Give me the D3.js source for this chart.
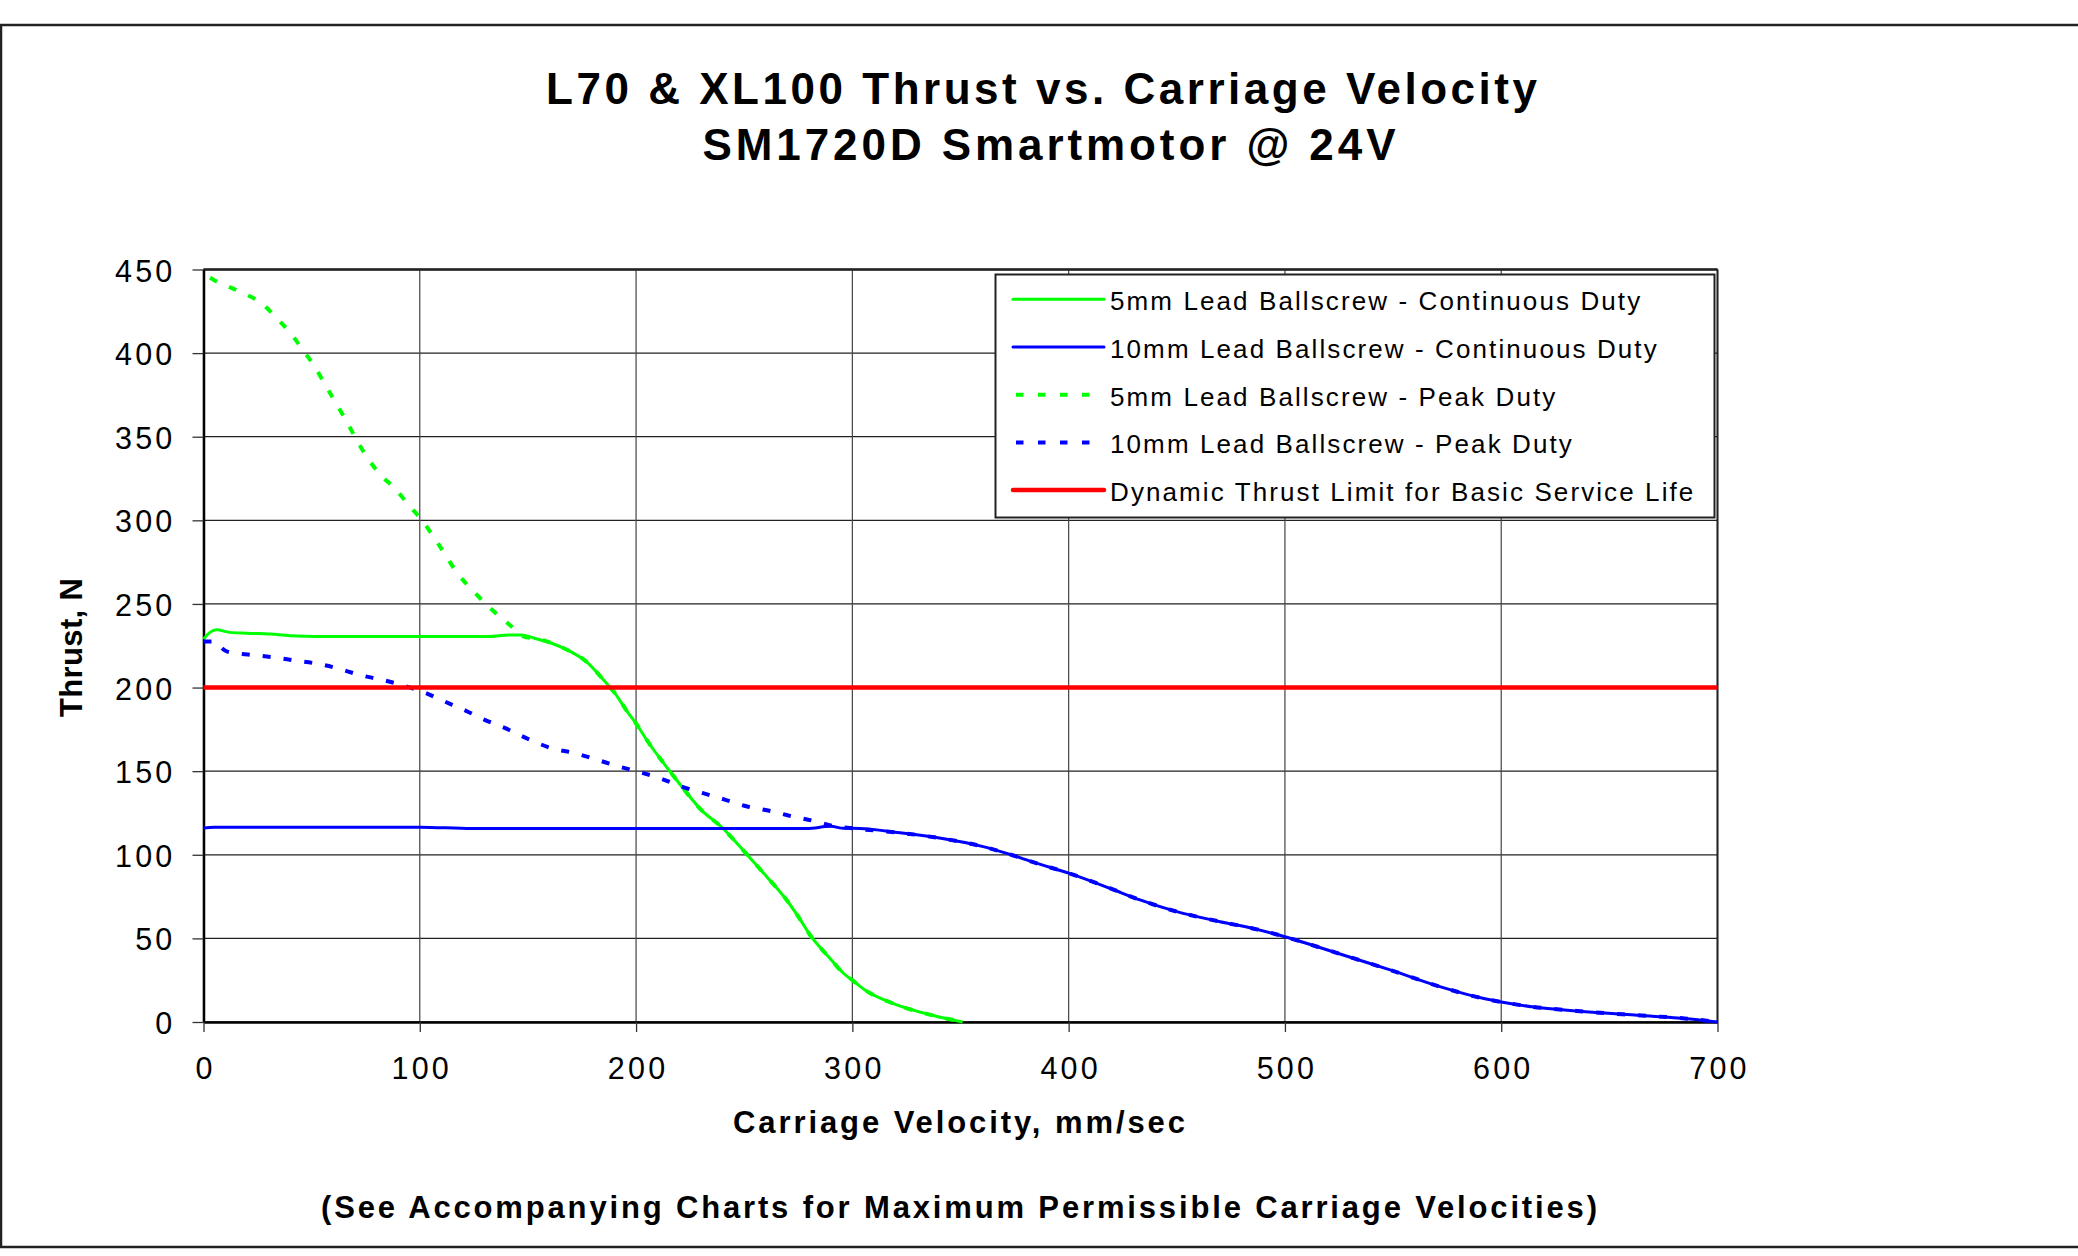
<!DOCTYPE html>
<html>
<head>
<meta charset="utf-8">
<script src="https://cdn.jsdelivr.net/npm/d3@7"></script>
<style>
  body { margin: 0; background: #fff; }
  text { font-family: "Liberation Sans", Arial, sans-serif; fill: #000; }
</style>
</head>
<body>
<script>
// chart values
var xTicks = [0, 100, 200, 300, 400, 500, 600, 700];
var yTicks = [0, 50, 100, 150, 200, 250, 300, 350, 400, 450];

// 5mm lead ballscrew - continuous duty
var cont5Vel = [0, 3, 6, 12, 20, 31, 40, 62, 100, 132, 141, 147, 153, 161, 169, 177, 185, 190, 196, 200, 205, 215, 221, 230, 240, 250, 261, 269, 275, 281, 289, 296, 300, 306, 319, 337, 351];
var cont5Thrust = [229, 233, 234.5, 233, 232.5, 232, 231, 230.5, 230.5, 230.5, 231.5, 231.5, 229.5, 226.5, 222, 215.5, 204.5, 197, 185.5, 178.5, 168.5, 151, 141, 127, 116, 102, 86, 74, 63, 51, 39, 29, 25, 19, 11, 4, 0];

// 10mm lead ballscrew - continuous duty
var cont10Vel = [0, 5, 100, 124, 279, 290, 296, 300, 323, 343, 360, 371, 385, 400, 419, 433, 450, 470, 487, 500, 515, 532, 549, 572, 592, 600, 615, 635, 663, 686, 700];
var cont10Thrust = [116, 116.5, 116.5, 115.7, 115.7, 117, 115.8, 115.8, 113, 109.4, 105, 101, 95, 89, 80, 73, 66, 60, 55.4, 51, 45, 38, 31, 21, 14, 12, 9, 6.6, 4, 2, 0];

// 5mm lead ballscrew - peak duty
var peak5Vel = [3, 5, 17, 27, 34, 41, 46, 51, 55.5, 60, 65, 70, 76, 82, 88.5, 95, 101, 107, 112, 117, 124.5, 133, 142, 149, 153, 161, 169, 177, 185, 190, 196, 200, 205, 215, 221, 230, 240, 250, 261, 269, 275, 281, 289, 296, 300, 306, 319, 337, 351];
var peak5Thrust = [445, 443.6, 436.6, 429.6, 420.7, 410.7, 401.7, 392.7, 382.8, 372.8, 361.8, 350, 337, 327, 319, 309, 300, 289, 279, 269, 258, 247, 237, 230, 229.5, 226.5, 222, 215.5, 204.5, 197, 185.5, 178.5, 168.5, 151, 141, 127, 116, 102, 86, 74, 63, 51, 39, 29, 25, 19, 11, 4, 0];

// 10mm lead ballscrew - peak duty
var peak10Vel = [0, 5, 6, 11, 22.6, 33, 43, 51.5, 62, 72, 82.6, 93, 101, 111.6, 122, 130, 139.5, 151, 161, 171.6, 182, 192, 200.6, 211, 221, 230.6, 241, 251, 262.7, 272, 283, 292, 300, 323, 343, 360, 371, 385, 400, 419, 433, 450, 470, 487, 500, 515, 532, 549, 572, 592, 600, 615, 635, 663, 686, 700];
var peak10Thrust = [227.5, 227.5, 226.5, 221.5, 219.5, 218, 216, 214.5, 211.5, 207.6, 204.6, 201, 197.6, 191.6, 185.7, 180.7, 175.7, 168.7, 163.7, 160.8, 156.8, 152.8, 149.8, 145.8, 140.8, 137, 133, 129, 126, 123, 120, 117, 115.8, 113, 109.4, 105, 101, 95, 89, 80, 73, 66, 60, 55.4, 51, 45, 38, 31, 21, 14, 12, 9, 6.6, 4, 2, 0];

// dynamic thrust limit
var limitVel = [0, 700];
var limitThrust = [200, 200];

var seriesNames = [
  "5mm Lead Ballscrew - Continuous Duty",
  "10mm Lead Ballscrew - Continuous Duty",
  "5mm Lead Ballscrew - Peak Duty",
  "10mm Lead Ballscrew - Peak Duty",
  "Dynamic Thrust Limit for Basic Service Life"
];

function zipSeries(vel, thrust) {
  return vel.map(function(v, i) { return { v: v, t: thrust[i] }; });
}

var series = [
  { name: seriesNames[0], pts: zipSeries(cont5Vel, cont5Thrust), color: "#00ff00", width: 3, dash: null },
  { name: seriesNames[1], pts: zipSeries(cont10Vel, cont10Thrust), color: "#0000ff", width: 3, dash: null },
  { name: seriesNames[2], pts: zipSeries(peak5Vel, peak5Thrust), color: "#00ff00", width: 4, dash: "8,13" },
  { name: seriesNames[3], pts: zipSeries(peak10Vel, peak10Thrust), color: "#0000ff", width: 4, dash: "8,13" },
  { name: seriesNames[4], pts: zipSeries(limitVel, limitThrust), color: "#ff0000", width: 4.5, dash: null }
];

var width = 2078,
    height = 1256;

var svg = d3.select("body")
  .append("svg")
  .attr("width", width)
  .attr("height", height);

//outer frame (open on the right like the source)
svg.append("rect")
  .attr("x", 1)
  .attr("y", 25)
  .attr("width", 2300)
  .attr("height", 1222)
  .attr("fill", "none")
  .attr("stroke", "#222")
  .attr("stroke-width", 2.5);

var x = d3.scaleLinear().domain([0, 700]).range([203.5, 1717.5]);
var y = d3.scaleLinear().domain([0, 450]).range([1022, 269.5]);

//gridlines
var grid = svg.append("g").attr("class", "grid");
grid.selectAll(".hgrid")
  .data(yTicks)
  .enter()
  .append("line")
  .attr("x1", x(0)).attr("x2", x(700))
  .attr("y1", function(d) { return y(d); })
  .attr("y2", function(d) { return y(d); })
  .attr("stroke", "#222")
  .attr("stroke-width", 1.3);
grid.selectAll(".vgrid")
  .data(xTicks)
  .enter()
  .append("line")
  .attr("y1", y(0)).attr("y2", y(450))
  .attr("x1", function(d) { return x(d); })
  .attr("x2", function(d) { return x(d); })
  .attr("stroke", "#444")
  .attr("stroke-width", 1.2);

//plot frame top + right
svg.append("line")
  .attr("x1", x(0)).attr("x2", x(700))
  .attr("y1", y(450)).attr("y2", y(450))
  .attr("stroke", "#222").attr("stroke-width", 2.5);
svg.append("line")
  .attr("x1", x(700)).attr("x2", x(700))
  .attr("y1", y(0)).attr("y2", y(450))
  .attr("stroke", "#222").attr("stroke-width", 2);

//axes
var yAxis = svg.append("g")
  .attr("transform", "translate(" + x(0) + ",0)")
  .call(d3.axisLeft(y).tickValues(yTicks).tickSize(11).tickPadding(17).tickSizeOuter(0));
var xAxis = svg.append("g")
  .attr("transform", "translate(0," + y(0) + ")")
  .call(d3.axisBottom(x).tickValues(xTicks).tickSize(10).tickPadding(25).tickSizeOuter(0));

[xAxis, yAxis].forEach(function(ax) {
  ax.select(".domain").attr("stroke", "#000").attr("stroke-width", 2.5);
  ax.selectAll(".tick line").attr("stroke", "#333").attr("stroke-width", 1.3);
  ax.selectAll(".tick text")
    .style("font-family", '"Liberation Sans", Arial, sans-serif')
    .style("font-size", "30.5px")
    .style("letter-spacing", "3.2px")
    .attr("fill", "#000");
});
yAxis.selectAll(".tick text").attr("dy", "0.38em");
xAxis.selectAll(".tick text").attr("dx", "1.5px");

//curves
var line = d3.line()
  .x(function(d) { return x(d.v); })
  .y(function(d) { return y(d.t); })
  .curve(d3.curveMonotoneX);

svg.append("g")
  .selectAll("path")
  .data(series)
  .enter()
  .append("path")
  .attr("d", function(d) { return line(d.pts); })
  .attr("fill", "none")
  .attr("stroke", function(d) { return d.color; })
  .attr("stroke-width", function(d) { return d.width; })
  .attr("stroke-dasharray", function(d) { return d.dash; })
  .attr("stroke-linejoin", "round");

//legend
var legend = svg.append("g");
legend.append("rect")
  .attr("x", 995.5)
  .attr("y", 274.5)
  .attr("width", 719)
  .attr("height", 243)
  .attr("fill", "#fff")
  .attr("stroke", "#222")
  .attr("stroke-width", 2);

var rows = legend.selectAll(".row")
  .data(series)
  .enter()
  .append("g")
  .attr("transform", function(d, i) { return "translate(0," + (310.3 + i * 47.7) + ")"; });
rows.append("line")
  .attr("x1", function(d) { return d.dash ? 1016 : 1013; })
  .attr("x2", 1104)
  .attr("y1", -11).attr("y2", -11)
  .attr("stroke", function(d) { return d.color; })
  .attr("stroke-width", function(d) { return d.dash ? 4 : (d.width > 4 ? 4.5 : 3); })
  .attr("stroke-dasharray", function(d) { return d.dash ? "7.5,14.5" : null; })
  .attr("stroke-linecap", function(d) { return d.dash ? "butt" : "round"; });
rows.append("text")
  .attr("x", 1110)
  .attr("y", 0)
  .style("font-size", "26px")
  .style("letter-spacing", "2.1px")
  .text(function(d) { return d.name; });

//titles
function boldText(txt, cx, by, size, len) {
  return svg.append("text")
    .attr("x", cx)
    .attr("y", by)
    .attr("text-anchor", "middle")
    .attr("textLength", len)
    .attr("lengthAdjust", "spacing")
    .style("font-size", size + "px")
    .style("font-weight", "bold")
    .text(txt);
}
boldText("L70 & XL100 Thrust vs. Carriage Velocity", 1041.5, 104, 44, 991);
boldText("SM1720D Smartmotor @ 24V", 1049, 160, 44, 693);
boldText("Carriage Velocity, mm/sec", 959, 1133, 31, 452);
boldText("(See Accompanying Charts for Maximum Permissible Carriage Velocities)", 959, 1218, 31, 1276);

svg.append("text")
  .attr("transform", "translate(82,647.5) rotate(-90)")
  .attr("text-anchor", "middle")
  .attr("textLength", 139)
  .attr("lengthAdjust", "spacing")
  .style("font-size", "31px")
  .style("font-weight", "bold")
  .text("Thrust, N");
</script>
</body>
</html>
